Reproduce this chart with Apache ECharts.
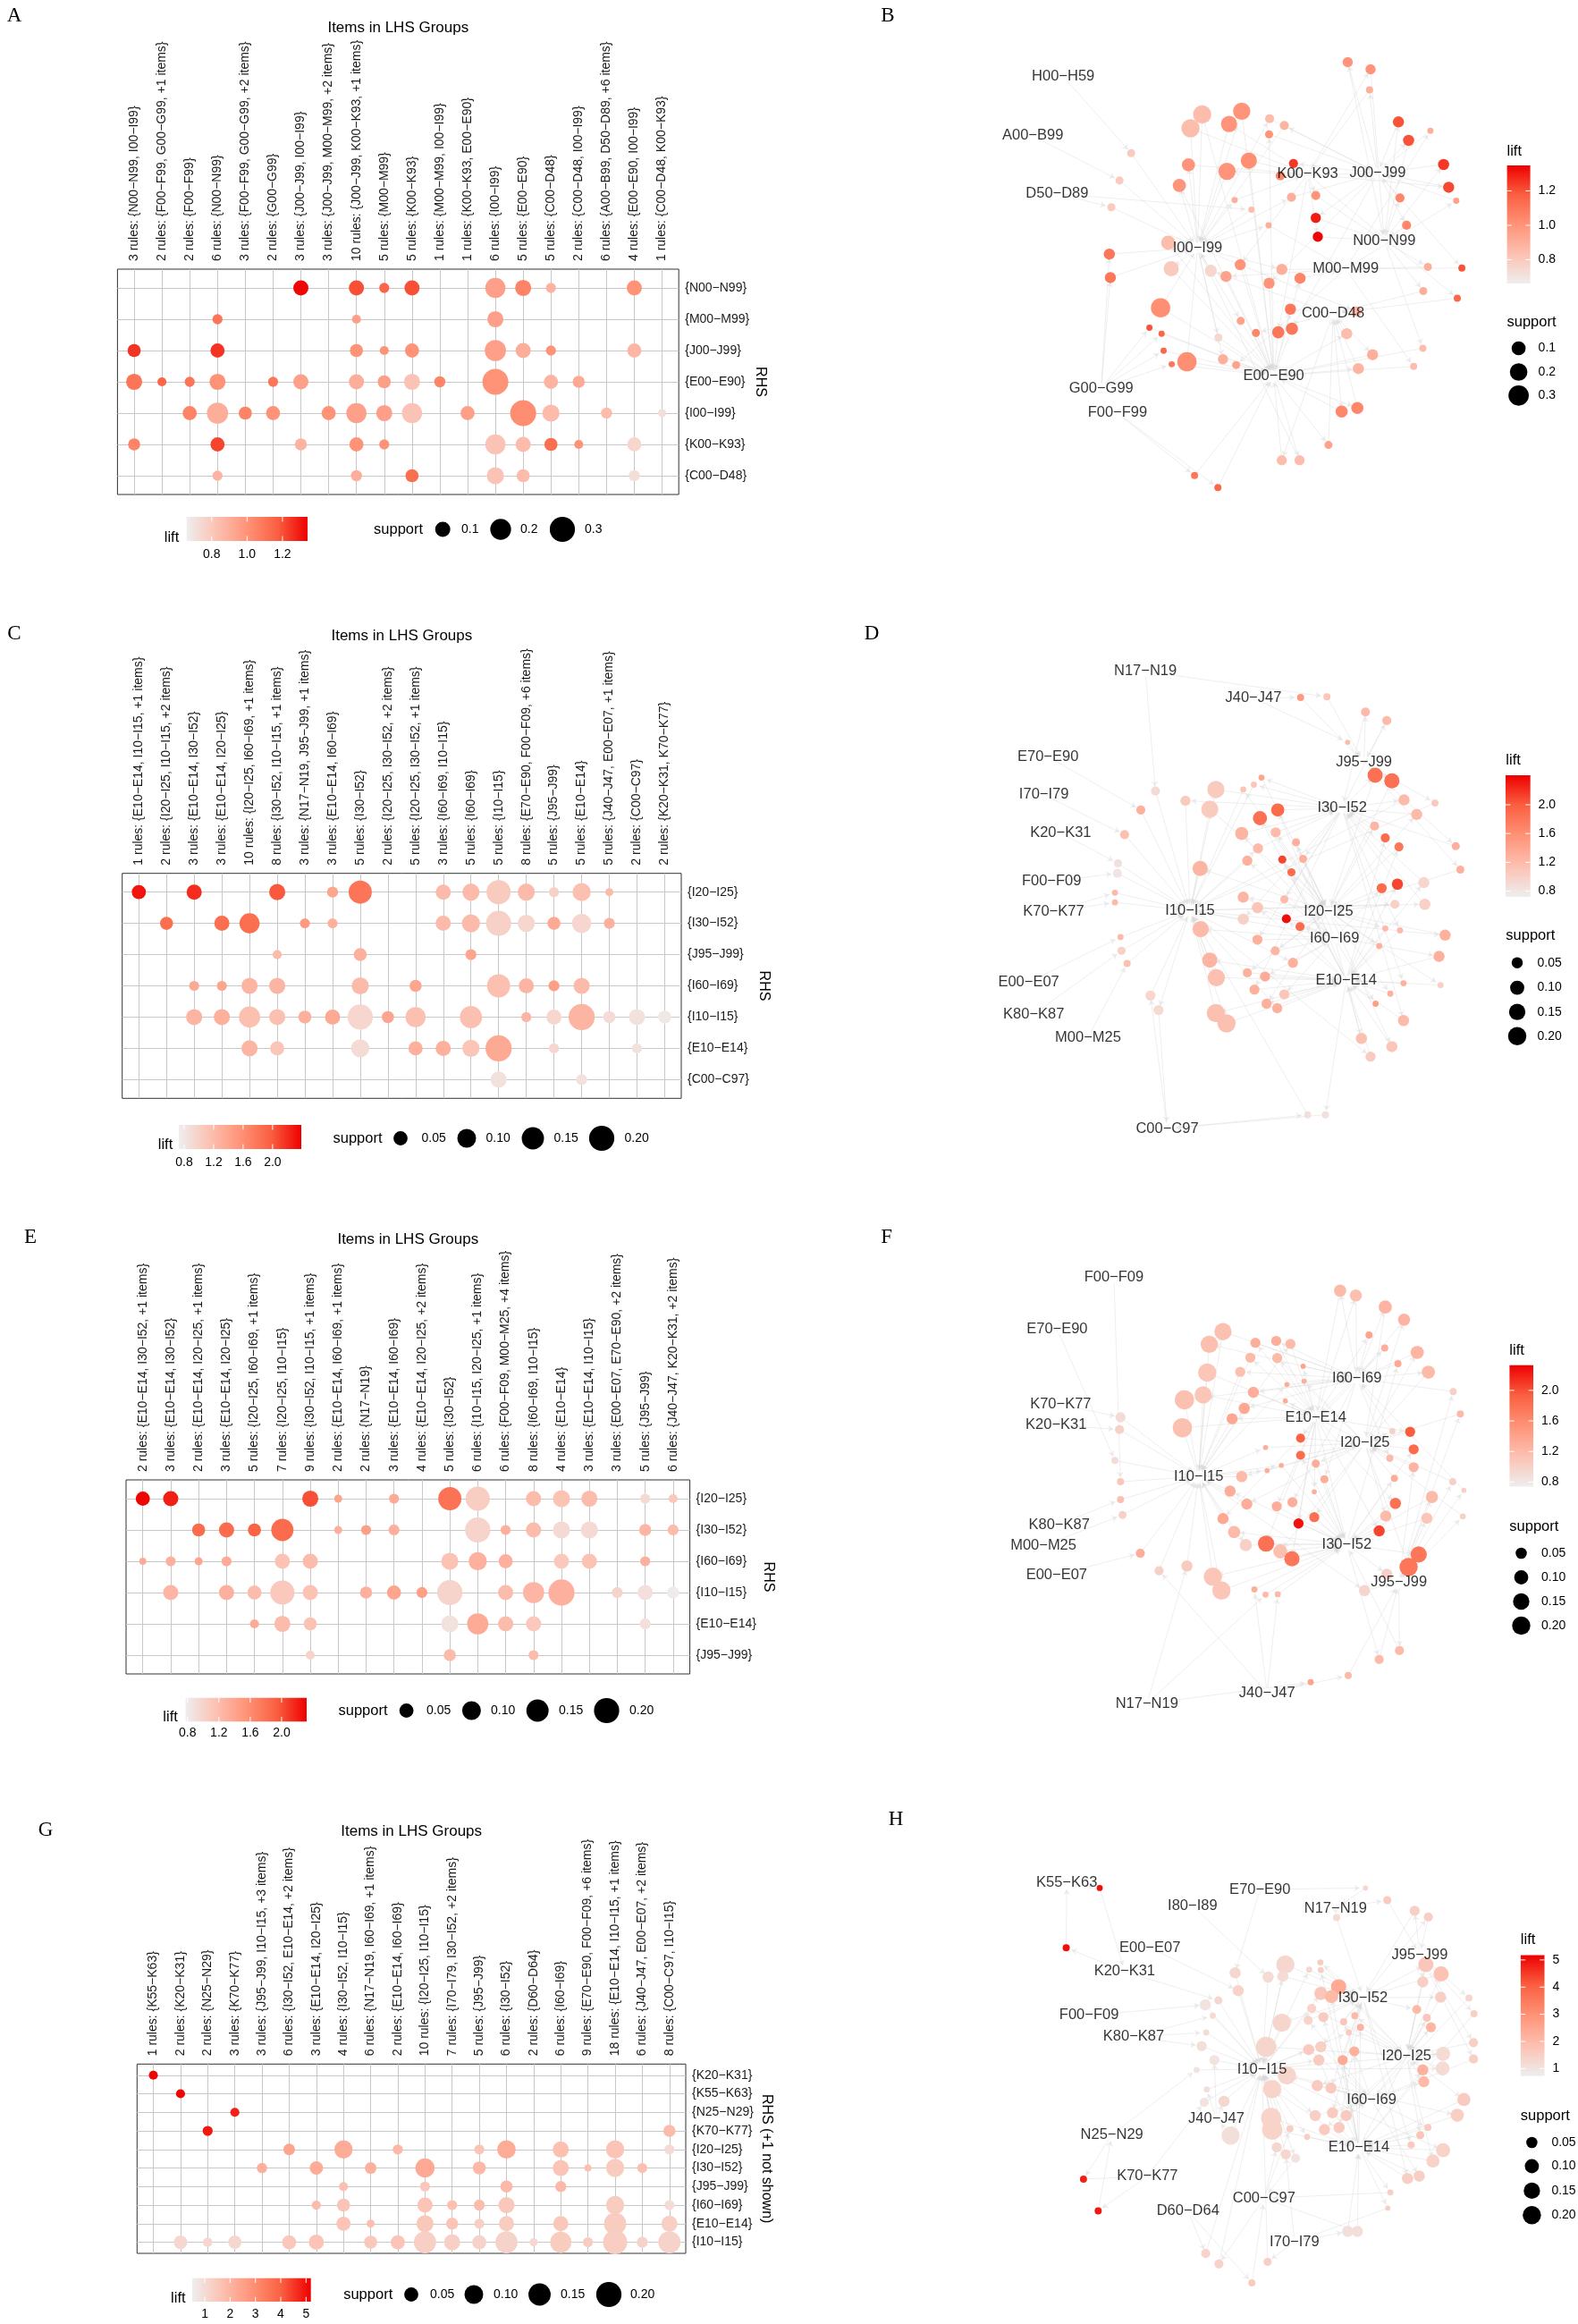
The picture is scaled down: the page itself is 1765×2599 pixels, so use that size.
<!DOCTYPE html>
<html><head><meta charset="utf-8">
<script src="https://cdn.jsdelivr.net/npm/echarts@6/dist/echarts.min.js"></script>
<style>html,body{margin:0;padding:0;background:#fff}#c{width:1765px;height:2599px}</style>
</head><body><div id="c"></div>
<script>
// ---------------- DATA ----------------
const aColumns = ['3 rules: {N00−N99, I00−I99}','2 rules: {F00−F99, G00−G99, +1 items}','2 rules: {F00−F99}','6 rules: {N00−N99}','3 rules: {F00−F99, G00−G99, +2 items}','2 rules: {G00−G99}','3 rules: {J00−J99, I00−I99}','3 rules: {J00−J99, M00−M99, +2 items}','10 rules: {J00−J99, K00−K93, +1 items}','5 rules: {M00−M99}','5 rules: {K00−K93}','1 rules: {M00−M99, I00−I99}','1 rules: {K00−K93, E00−E90}','6 rules: {I00−I99}','5 rules: {E00−E90}','5 rules: {C00−D48}','2 rules: {C00−D48, I00−I99}','6 rules: {A00−B99, D50−D89, +6 items}','4 rules: {E00−E90, I00−I99}','1 rules: {C00−D48, K00−K93}'];
const aRows = ['{N00−N99}','{M00−M99}','{J00−J99}','{E00−E90}','{I00−I99}','{K00−K93}','{C00−D48}'];
// [column, row, support, lift]
const aBubbles = [
[6,0,.100,1.33],[8,0,.100,1.2],[9,0,.040,1.15],[10,0,.100,1.2],[13,0,.187,0.95],[14,0,.115,1.05],[15,0,.040,0.88],[18,0,.100,1.0],
[3,1,.040,1.1],[8,1,.031,0.95],[13,1,.115,0.95],
[0,2,.073,1.25],[3,2,.086,1.25],[8,2,.073,1.0],[9,2,.031,1.0],[10,2,.086,1.0],[13,2,.208,0.95],[14,2,.100,0.9],[15,2,.040,1.0],[18,2,.086,0.87],
[0,3,.115,1.1],[1,3,.031,1.15],[2,3,.040,1.1],[3,3,.115,1.0],[5,3,.040,1.1],[6,3,.100,0.95],[8,3,.100,0.9],[9,3,.073,0.95],[10,3,.115,0.82],[11,3,.050,1.05],[13,3,.320,1.0],[15,3,.086,0.88],[16,3,.061,0.92],
[2,4,.086,1.05],[3,4,.208,0.9],[4,4,.073,1.05],[5,4,.086,1.0],[7,4,.086,1.0],[8,4,.187,0.95],[9,4,.115,0.95],[10,4,.187,0.82],[12,4,.086,0.95],[14,4,.320,1.02],[15,4,.132,0.85],[17,4,.050,0.85],[19,4,.024,0.72],
[0,5,.061,1.05],[3,5,.086,1.22],[6,5,.061,0.88],[8,5,.086,1.0],[9,5,.040,1.0],[13,5,.187,0.82],[14,5,.100,0.85],[15,5,.073,1.12],[16,5,.031,1.0],[18,5,.086,0.75],
[3,6,.040,0.88],[8,6,.050,0.9],[10,6,.073,1.12],[13,6,.132,0.82],[14,6,.073,0.85],[18,6,.050,0.72]];

const cColumns = ['1 rules: {E10−E14, I10−I15, +1 items}','2 rules: {I20−I25, I10−I15, +2 items}','3 rules: {E10−E14, I30−I52}','3 rules: {E10−E14, I20−I25}','10 rules: {I20−I25, I60−I69, +1 items}','8 rules: {I30−I52, I10−I15, +1 items}','3 rules: {N17−N19, J95−J99, +1 items}','3 rules: {E10−E14, I60−I69}','5 rules: {I30−I52}','2 rules: {I20−I25, I30−I52, +2 items}','5 rules: {I20−I25, I30−I52, +1 items}','3 rules: {I60−I69, I10−I15}','5 rules: {I60−I69}','5 rules: {I10−I15}','8 rules: {E70−E90, F00−F09, +6 items}','5 rules: {J95−J99}','5 rules: {E10−E14}','5 rules: {J40−J47, E00−E07, +1 items}','2 rules: {C00−C97}','2 rules: {K20−K31, K70−K77}'];
const cRows = ['{I20−I25}','{I30−I52}','{J95−J99}','{I60−I69}','{I10−I15}','{E10−E14}','{C00−C97}'];
const cBubbles = [
[0,0,.05,2.3],[2,0,.06,2.2],[5,0,.07,2.0],[7,0,.026,1.4],[8,0,.165,1.8],[11,0,.06,1.2],[12,0,.081,1.2],[13,0,.182,1.05],[14,0,.081,1.2],[15,0,.02,1.0],[16,0,.093,1.15],[17,0,.01,1.2],
[1,1,.041,1.85],[3,1,.06,1.85],[4,1,.119,1.85],[6,1,.02,1.5],[7,1,.02,1.3],[11,1,.06,1.2],[12,1,.093,1.2],[13,1,.2,1.0],[14,1,.081,0.95],[15,1,.041,1.35],[16,1,.106,0.95],[17,1,.026,1.3],
[5,2,.015,1.2],[8,2,.041,1.3],[12,2,.026,1.4],
[2,3,.02,1.35],[3,3,.02,1.4],[4,3,.07,1.25],[5,3,.07,1.25],[8,3,.081,1.2],[10,3,.034,1.4],[13,3,.165,1.15],[14,3,.06,1.25],[15,3,.026,1.45],[16,3,.07,1.2],
[2,4,.07,1.25],[3,4,.07,1.3],[4,4,.134,1.15],[5,4,.07,1.15],[6,4,.041,1.3],[7,4,.06,1.35],[8,4,.2,0.95],[9,4,.034,1.4],[10,4,.119,1.15],[12,4,.149,1.15],[14,4,.02,1.25],[15,4,.06,0.95],[16,4,.218,1.25],[17,4,.034,0.9],[18,4,.07,0.85],[19,4,.041,0.78],
[4,5,.07,1.25],[5,5,.05,1.1],[8,5,.093,0.9],[10,5,.05,1.3],[11,5,.06,1.3],[12,5,.081,1.1],[13,5,.218,1.35],[15,5,.02,0.95],[18,5,.02,0.85],
[13,6,.07,0.85],[16,6,.026,0.85]];

const eColumns = ['2 rules: {E10−E14, I30−I52, +1 items}','3 rules: {E10−E14, I30−I52}','2 rules: {E10−E14, I20−I25, +1 items}','3 rules: {E10−E14, I20−I25}','5 rules: {I20−I25, I60−I69, +1 items}','7 rules: {I20−I25, I10−I15}','9 rules: {I30−I52, I10−I15, +1 items}','2 rules: {E10−E14, I60−I69, +1 items}','2 rules: {N17−N19}','3 rules: {E10−E14, I60−I69}','4 rules: {E10−E14, I20−I25, +2 items}','5 rules: {I30−I52}','6 rules: {I10−I15, I20−I25, +1 items}','6 rules: {F00−F09, M00−M25, +4 items}','8 rules: {I60−I69, I10−I15}','4 rules: {E10−E14}','3 rules: {E10−E14, I10−I15}','3 rules: {E00−E07, E70−E90, +2 items}','5 rules: {J95−J99}','6 rules: {J40−J47, K20−K31, +2 items}'];
const eRows = ['{I20−I25}','{I30−I52}','{I60−I69}','{I10−I15}','{E10−E14}','{J95−J99}'];
const eBubbles = [
[0,0,.05,2.3],[1,0,.06,2.2],[6,0,.07,2.0],[7,0,.0103,1.4],[9,0,.02,1.35],[11,0,.165,1.8],[12,0,.182,1.05],[14,0,.06,1.2],[15,0,.081,1.15],[16,0,.07,1.2],[18,0,.02,0.95],[19,0,.015,1.1],
[2,1,.041,1.85],[3,1,.06,1.85],[4,1,.041,1.9],[5,1,.149,1.85],[7,1,.0103,1.3],[8,1,.02,1.45],[9,1,.026,1.3],[12,1,.2,1.0],[13,1,.02,1.3],[14,1,.06,1.2],[15,1,.081,0.95],[16,1,.081,0.95],[18,1,.034,1.25],[19,1,.026,1.2],
[0,2,.0066,1.35],[1,2,.02,1.3],[2,2,.0103,1.4],[3,2,.02,1.35],[5,2,.06,1.15],[6,2,.06,1.2],[11,2,.081,1.15],[12,2,.093,1.3],[13,2,.05,1.3],[15,2,.06,1.1],[16,2,.06,1.15],[18,2,.02,1.3],
[1,3,.06,1.25],[3,3,.06,1.3],[4,3,.05,1.2],[5,3,.182,1.1],[6,3,.06,1.15],[8,3,.034,1.3],[9,3,.05,1.4],[10,3,.026,1.45],[11,3,.2,1.0],[13,3,.06,1.2],[14,3,.134,1.25],[15,3,.218,1.3],[17,3,.026,1.0],[18,3,.06,0.9],[19,3,.034,0.8],
[4,4,.015,1.35],[5,4,.07,1.2],[6,4,.041,1.15],[11,4,.081,0.88],[12,4,.134,1.35],[13,4,.06,1.2],[14,4,.06,1.1],[18,4,.026,0.9],
[6,5,.015,1.0],[11,5,.034,1.2],[14,5,.02,1.2]];

const gColumns = ['1 rules: {K55−K63}','2 rules: {K20−K31}','2 rules: {N25−N29}','3 rules: {K70−K77}','3 rules: {J95−J99, I10−I15, +3 items}','6 rules: {I30−I52, E10−E14, +2 items}','3 rules: {E10−E14, I20−I25}','4 rules: {I30−I52, I10−I15}','6 rules: {N17−N19, I60−I69, +1 items}','2 rules: {E10−E14, I60−I69}','10 rules: {I20−I25, I10−I15}','7 rules: {I70−I79, I30−I52, +2 items}','5 rules: {J95−J99}','6 rules: {I30−I52}','2 rules: {D60−D64}','6 rules: {I60−I69}','9 rules: {E70−E90, F00−F09, +6 items}','18 rules: {E10−E14, I10−I15, +1 items}','6 rules: {J40−J47, E00−E07, +2 items}','8 rules: {C00−C97, I10−I15}'];
const gRows = ['{K20−K31}','{K55−K63}','{N25−N29}','{K70−K77}','{I20−I25}','{I30−I52}','{J95−J99}','{I60−I69}','{E10−E14}','{I10−I15}'];
const gBubbles = [
[0,0,.015,5.1],[1,1,.015,5.1],[3,2,.015,4.8],[2,3,.02,4.9],[19,3,.034,1.8],
[5,4,.03,2.4],[7,4,.093,2.2],[9,4,.02,1.9],[12,4,.02,1.6],[13,4,.097,2.2],[15,4,.07,1.7],[17,4,.093,1.6],[19,4,.02,1.0],
[4,5,.022,2.1],[6,5,.044,2.2],[8,5,.03,2.1],[10,5,.106,2.3],[12,5,.041,1.9],[15,5,.07,1.6],[16,5,.0066,1.7],[17,5,.093,1.4],[18,5,.02,1.7],
[7,6,.015,1.7],[10,6,.02,1.5],[13,6,.034,1.9],[15,6,.026,1.9],
[6,7,.015,1.8],[7,7,.041,1.6],[10,7,.06,1.6],[11,7,.02,1.7],[12,7,.026,1.8],[13,7,.07,1.5],[17,7,.093,1.4],[19,7,.02,1.0],
[7,8,.05,1.6],[8,8,.0103,1.7],[10,8,.081,1.5],[11,8,.034,1.6],[12,8,.02,1.3],[13,8,.06,1.4],[15,8,.06,1.5],[17,8,.149,1.4],[19,8,.07,1.3],
[1,9,.046,1.1],[2,9,.017,1.1],[3,9,.044,1.1],[5,9,.05,1.5],[6,9,.06,1.6],[8,9,.041,1.5],[9,9,.05,1.6],[10,9,.149,1.3],[11,9,.07,1.3],[12,9,.05,1.2],[13,9,.149,1.2],[14,9,.0103,1.1],[15,9,.134,1.4],[16,9,.02,1.4],[17,9,.182,1.35],[18,9,.026,1.2],[19,9,.149,1.2]];

// Networks: items [label, layoutX, layoutY]; rules [layoutX, layoutY, support, lift, lhsItem, rhsItem]
const bItems = [['H00−H59',545,215],['A00−B99',485,382],['D50−D89',533,545],['K00−K93',1027,490],['J00−J99',1165,487],['I00−I99',810,697],['N00−N99',1178,678],['M00−M99',1102,757],['C00−D48',1077,882],['E00−E90',960,1058],['G00−G99',620,1092],['F00−F99',652,1162]];
const bRules = [
[1106,175,.031,1.0,4,6],[1151,195,.031,1.0,3,6],[1149,253,.004,0.9,4,3],[819,322,.223,0.85,5,9],[897,313,.19,1.0,9,5],[796,361,.223,0.85,5,3],[872,349,.159,1.0,3,5],[952,334,.019,0.85,5,4],[981,353,.019,0.88,4,5],[951,378,.010,1.0,9,4],
[1206,343,.045,1.2,6,4],[1226,395,.045,1.2,4,6],[1269,368,.001,0.9,7,4],[679,431,.010,0.8,0,5],[656,508,.010,0.8,1,5],[640,583,.010,0.8,2,5],[792,464,.082,1.0,5,3],[868,482,.19,1.0,3,5],[911,452,.159,1.02,9,3],[774,522,.082,1.0,5,9],
[999,460,.019,1.25,4,3],[973,495,.019,1.05,3,4],[883,563,.001,0.9,5,3],[995,555,.019,0.9,5,4],[1043,550,.019,1.0,3,6],[1295,463,.045,1.25,6,4],[1305,527,.045,1.22,3,4],[1320,565,.001,0.95,7,4],[1209,557,.019,1.05,6,4],[1222,634,.019,1.05,4,6],
[1043,613,.031,1.3,4,6],[1047,666,.031,1.34,3,6],[950,634,.001,0.9,5,7],[916,590,.001,0.85,2,5],[636,715,.045,1.1,10,5],[638,781,.045,1.1,10,5],[752,683,.105,0.85,9,5],[758,756,.13,0.8,5,9],[836,762,.062,0.75,8,5],[894,745,.045,1.0,3,9],
[866,778,.045,0.95,7,9],[976,758,.045,0.9,5,7],[1012,783,.045,1.05,9,7],[951,797,.045,1.0,4,9],[1264,751,.010,0.9,6,7],[1331,754,.004,1.2,4,7],[1255,819,.010,0.9,6,8],[1322,839,.004,1.15,3,8],[737,866,.26,1.02,9,5],[993,870,.045,1.1,9,8],
[1123,876,.031,0.88,5,8],[715,922,.001,1.2,10,9],[739,939,.001,1.15,10,9],[743,987,.001,1.15,10,9],[759,1025,.001,1.1,10,9],[789,1018,.26,1.02,5,9],[895,903,.010,0.95,5,9],[925,937,.010,1.05,8,9],[969,935,.062,1.1,3,9],[996,925,.062,1.1,4,9],
[851,950,.010,0.75,5,9],[1104,939,.045,0.85,9,8],[860,1011,.031,0.9,5,9],[886,1027,.010,0.95,7,9],[1155,998,.045,0.9,8,9],[1127,1037,.045,0.88,9,8],[1254,980,.004,0.85,6,9],[1236,1031,.004,0.85,7,9],[1094,1158,.062,1.05,8,9],[1125,1148,.062,1.05,9,8],
[1068,1252,.010,0.95,9,8],[976,1295,.031,0.85,8,9],[1011,1295,.031,0.85,9,5],[804,1338,.004,1.1,11,9],[850,1372,.004,1.15,11,9]];

const dItems = [['N17−N19',707,218],['J40−J47',920,290],['E70−E90',515,447],['J95−J99',1138,463],['I70−I79',507,549],['I30−I52',1095,585],['K20−K31',540,652],['F00−F09',522,781],['K70−K77',526,863],['I10−I15',795,860],['I20−I25',1068,862],['I60−I69',1080,935],['E00−E07',477,1052],['E10−E14',1103,1047],['K80−K87',487,1138],['M00−M25',594,1200],['C00−C97',750,1445]];
const dRules = [
[1013,288,.009,1.5,1,3],[1065,286,.009,1.1,0,3],[1141,327,.025,1.2,3,5],[1183,350,.025,1.2,5,3],[1106,408,.001,1.2,1,3],[1160,497,.123,1.85,5,10],[1193,512,.123,1.85,3,10],[936,503,.004,1.4,5,10],[921,522,.004,1.1,5,9],[900,535,.004,1.1,10,9],
[846,535,.172,1.05,9,5],[786,565,.036,1.05,5,9],[727,539,.025,0.9,0,9],[834,588,.172,1.05,9,10],[698,590,.025,1.3,2,9],[968,590,.082,1.9,13,5],[933,612,.10,1.85,13,10],[1217,563,.05,1.2,5,9],[1278,571,.009,1.05,3,9],[1242,602,.05,1.2,10,5],
[666,656,.025,1.15,4,9],[897,653,.082,1.25,11,5],[964,650,.036,1.2,10,5],[1159,633,.025,1.25,10,5],[1180,665,.025,1.9,13,5],[1207,689,.025,1.8,13,10],[1004,677,.016,1.3,11,10],[929,693,.036,1.2,9,5],[653,733,.016,0.85,6,9],[652,760,.025,0.8,7,9],
[815,747,.123,1.25,10,9],[908,726,.036,1.3,11,9],[977,723,.016,2.1,13,10],[1018,721,.016,1.3,5,10],[995,757,.016,1.9,13,10],[1319,687,.016,1.3,3,5],[1328,750,.016,1.3,3,10],[1256,785,.05,0.95,13,5],[1173,800,.036,1.9,11,10],[1204,789,.05,2.1,13,5],
[647,812,.004,1.2,8,9],[647,838,.004,1.2,8,9],[900,824,.05,1.25,10,11],[981,830,.016,1.2,5,11],[928,852,.05,1.1,13,11],[1258,843,.05,1.0,9,5],[1199,843,.025,1.0,9,10],[900,883,.05,1.0,5,9],[985,882,.025,2.35,13,10],[1012,903,.025,1.9,11,10],
[816,910,.147,1.2,11,9],[1180,908,.004,1.2,10,13],[1209,913,.004,1.2,5,13],[1298,926,.05,1.3,9,10],[658,931,.004,1.2,12,9],[660,968,.016,1.0,14,9],[671,1002,.009,1.15,15,9],[928,938,.036,1.3,5,11],[963,968,.025,1.25,10,11],[1168,955,.004,1.3,10,13],
[834,993,.123,1.25,13,9],[998,1000,.036,1.3,9,11],[1286,983,.05,1.3,9,13],[847,1040,.172,1.15,9,13],[908,1027,.025,1.3,10,13],[943,1037,.036,1.35,11,13],[922,1072,.036,1.3,5,13],[981,1085,.036,1.1,11,13],[1216,1055,.004,1.3,5,13],[1289,1060,.004,1.0,10,13],
[1190,1083,.004,1.3,10,13],[1161,1110,.004,1.45,11,13],[717,1088,.036,0.95,16,9],[733,1127,.036,0.9,9,16],[946,1110,.036,1.3,10,13],[967,1122,.036,1.3,9,13],[846,1135,.20,1.15,13,9],[867,1163,.20,1.15,9,13],[1216,1155,.05,1.2,5,13],[1133,1203,.05,1.15,11,13],
[1193,1225,.05,1.1,10,13],[1151,1252,.036,1.05,9,13],[1027,1408,.009,0.85,16,9],[1062,1408,.009,0.85,13,16]];

const fItems = [['F00−F09',645,237],['E70−E90',533,375],['I60−I69',1124,508],['K70−K77',540,577],['E10−E14',1043,612],['K20−K31',531,633],['I20−I25',1140,681],['I10−I15',812,771],['K80−K87',537,900],['M00−M25',506,957],['I30−I52',1104,953],['E00−E07',532,1035],['J95−J99',1207,1055],['J40−J47',947,1352],['N17−N19',710,1381]];
const fRules = [
[1091,272,.065,1.2,2,4],[1122,285,.065,1.15,4,2],[1180,316,.082,1.25,2,6],[1217,350,.065,1.25,6,2],[1148,391,.009,1.4,4,2],[1179,426,.009,1.3,2,4],[1243,438,.082,1.25,6,2],[1205,468,.009,1.35,10,2],[1265,491,.082,1.2,2,6],[860,382,.172,1.15,7,2],
[833,416,.172,1.15,2,7],[924,412,.036,1.3,4,2],[965,407,.036,1.3,2,4],[993,415,.036,1.2,7,4],[914,452,.036,1.2,4,7],[967,453,.036,1.2,6,4],[1018,475,.001,1.4,10,2],[829,492,.20,1.1,7,4],[894,490,.036,1.15,2,7],[986,524,.001,1.3,7,2],
[1020,515,.001,1.3,6,2],[821,552,.172,1.1,4,7],[920,545,.05,1.3,2,4],[784,565,.229,1.15,7,2],[983,568,.001,1.3,6,4],[902,588,.05,1.35,2,7],[878,616,.05,1.35,4,7],[1314,543,.009,1.0,12,2],[1328,603,.009,1.2,12,6],[780,640,.229,1.15,7,4],
[658,612,.036,0.9,3,7],[656,645,.025,1.0,5,7],[1229,651,.036,1.95,4,6],[1236,698,.036,1.85,10,6],[1013,668,.025,1.9,4,6],[1013,714,.025,1.85,10,6],[944,693,.001,1.3,7,6],[1194,649,.004,1.0,6,2],[1189,722,.009,1.2,2,6],[1236,746,.036,1.25,12,6],
[647,728,.009,0.9,1,7],[1043,736,.016,1.3,6,10],[975,741,.001,1.3,7,10],[947,755,.001,1.3,7,6],[897,771,.05,1.2,6,7],[1060,778,.016,1.3,2,10],[1198,776,.009,1.3,10,6],[1313,785,.009,1.0,12,6],[1335,808,.001,1.0,12,2],[658,785,.009,1.1,0,7],
[874,810,.05,1.3,10,7],[1040,812,.001,1.3,4,10],[997,840,.036,1.3,2,10],[907,845,.05,1.3,6,7],[966,851,.036,1.3,4,10],[1272,826,.065,1.2,12,10],[1200,843,.05,1.8,4,10],[658,833,.009,1.15,8,7],[1181,877,.05,1.2,6,10],[1262,883,.05,1.1,12,10],
[1333,878,.004,1.0,12,6],[662,874,.016,1.0,9,7],[860,884,.05,1.35,2,7],[1009,897,.036,2.25,4,10],[1040,880,.036,1.8,6,10],[1168,917,.05,2.05,4,10],[882,920,.065,1.2,10,7],[945,951,.147,1.8,4,10],[905,955,.065,1.0,7,10],[973,972,.10,1.15,6,10],
[996,992,.123,1.75,4,10],[1246,980,.147,1.75,10,12],[1226,1014,.20,1.75,6,12],[697,977,.025,1.3,11,7],[789,1011,.05,1.05,14,7],[734,1024,.025,1.0,13,7],[840,1040,.20,1.1,10,7],[857,1077,.20,1.1,7,10],[1183,1033,.05,1.0,10,12],[1139,1077,.05,0.95,7,12],
[922,1074,.004,1.3,13,10],[944,1088,.004,1.2,14,10],[968,1087,.004,1.2,13,10],[1208,1238,.025,1.2,12,10],[1168,1262,.025,1.2,10,12],[1107,1305,.009,1.2,13,12],[1033,1323,.004,1.4,14,13]];

const hItems = [['K55−K63',552,297],['E70−E90',933,315],['I80−I89',800,362],['N17−N19',1082,370],['E00−E07',716,482],['J95−J99',1248,502],['K20−K31',666,550],['I30−I52',1136,625],['F00−F09',596,676],['K80−K87',684,737],['I20−I25',1222,792],['I10−I15',937,830],['I60−I69',1153,918],['J40−J47',847,972],['N25−N29',641,1018],['E10−E14',1128,1055],['K70−K77',711,1137],['C00−C97',941,1200],['D60−D64',791,1237],['I70−I79',1001,1325]];
const hRules = [
[617,311,.004,5.0,0,6],[551,482,.009,5.0,6,0],[585,1145,.009,4.8,14,16],[614,1236,.009,4.9,16,14],[1141,311,.001,1.3,1,3],[1184,346,.016,1.6,3,5],[1084,396,.009,1.2,3,7],[1238,376,.036,1.5,5,7],[1265,394,.025,1.5,7,5],[983,530,.20,1.3,11,7],
[949,566,.05,1.2,2,11],[978,564,.05,1.2,11,7],[884,554,.05,1.3,1,11],[890,605,.05,1.4,4,11],[1052,524,.004,1.6,7,10],[1030,545,.004,1.3,11,7],[1053,546,.004,1.5,15,7],[1088,594,.123,2.4,10,7],[1053,613,.082,1.7,11,7],[1074,622,.082,2.0,15,7],
[1260,530,.123,1.7,7,10],[1290,557,.123,1.8,10,7],[1254,580,.05,1.5,5,10],[1289,624,.05,1.5,7,10],[1345,626,.009,1.3,5,12],[1355,671,.009,1.5,5,15],[825,646,.05,1.0,8,11],[851,633,.016,1.3,6,11],[840,677,.004,1.2,9,11],[1035,656,.025,1.4,11,10],
[1028,690,.025,1.4,12,7],[1058,681,.036,1.6,15,7],[976,697,.20,1.35,7,11],[1120,677,.009,2.0,10,7],[1098,694,.009,1.7,12,7],[1131,710,.009,2.2,15,10],[1242,659,.025,2.0,7,10],[1262,683,.016,1.7,15,10],[1270,710,.036,2.1,12,10],[827,725,.004,1.2,9,11],
[1108,725,.004,1.6,11,10],[818,764,.036,1.1,9,11],[945,766,.26,1.35,10,11],[1029,774,.05,1.6,11,12],[1053,766,.05,1.5,7,12],[1119,779,.036,2.2,15,10],[1096,804,.036,2.4,15,7],[1049,804,.05,1.6,11,15],[843,804,.036,1.0,13,11],[1294,786,.10,1.2,11,10],
[1354,754,.025,1.5,5,10],[1354,801,.025,1.5,5,12],[808,832,.004,1.0,14,11],[1254,832,.05,2.2,15,10],[1293,828,.10,1.2,11,10],[986,848,.20,1.35,12,11],[1256,866,.05,2.0,12,10],[1046,877,.05,1.6,10,12],[1073,884,.05,1.6,7,12],[957,887,.20,1.4,15,11],
[828,888,.004,1.1,13,11],[1335,917,.082,1.6,10,15],[862,922,.05,1.3,13,11],[823,925,.025,1.0,16,11],[1322,962,.082,1.5,11,15],[1042,963,.05,1.5,11,12],[1076,955,.05,1.6,7,12],[1103,963,.05,1.6,10,12],[955,970,.26,1.4,11,15],[957,1003,.26,1.4,15,11],
[875,1020,.20,1.1,11,13],[1060,1003,.05,1.6,10,15],[1089,997,.05,1.6,7,15],[992,1001,.009,1.5,17,11],[1026,1024,.004,1.5,11,15],[1264,997,.009,1.6,12,15],[1249,1019,.016,1.7,10,15],[1294,1062,.10,1.4,11,15],[1231,1047,.009,1.6,7,15],[966,1054,.036,1.3,17,11],
[984,1074,.036,1.3,19,11],[1003,1085,.025,1.0,11,17],[1274,1093,.082,1.4,10,15],[1247,1136,.05,1.5,12,15],[1224,1143,.05,1.5,7,15],[1190,1183,.004,1.5,15,17],[1185,1228,.001,1.5,15,19],[1106,1295,.05,1.1,19,15],[1125,1295,.05,1.1,17,15],[826,1358,.025,1.4,18,11],
[852,1388,.025,1.4,17,11],[948,1382,.016,1.5,19,11],[917,1442,.009,1.6,18,17]];

// legend breaks
const liftBreaksA = [0.8,1.0,1.2], liftLabelsA = ['0.8','1.0','1.2'];
const liftBreaksC = [0.8,1.2,1.6,2.0], liftLabelsC = ['0.8','1.2','1.6','2.0'];
const liftBreaksG = [1,2,3,4,5], liftLabelsG = ['1','2','3','4','5'];
const supBreaksA = [0.1,0.2,0.3], supLabelsA = ['0.1','0.2','0.3'];
const supBreaksC = [0.05,0.10,0.15,0.20], supLabelsC = ['0.05','0.10','0.15','0.20'];

// ---------------- STYLE / LAYOUT ----------------
const FONT = '"Liberation Sans", Arial, Helvetica, sans-serif';
const SERIF = '"Liberation Serif", "DejaVu Serif", serif';
const RAMP = ['#EEEEEE','#FCC1B2','#FF9378','#FA6041','#EE0000'];
const sizeA = s => 1.6 + 48.5*Math.sqrt(s);
const sizeC = s => 3.4 + 55.5*Math.sqrt(s);
const sizeB = s => 6 + 30.5*Math.sqrt(s);
const sizeD = s => 4.6 + 35.4*Math.sqrt(s);

const option = {animation:false, backgroundColor:'#ffffff', grid:[], xAxis:[], yAxis:[], series:[], visualMap:[], graphic:{elements:[]}};
const G = option.graphic.elements;

function txt(x, y, s, size, align, family, color) {
  return {type:'text', x:x, y:y, silent:true, z:20,
    style:{text:s, fill:color||'#000', font: size+'px '+(family||FONT), align:align||'center', verticalAlign:'middle'}};
}
function gradient(horizontal) {
  const stops = RAMP.map((c,i)=>({offset:i/(RAMP.length-1), color:c}));
  return horizontal ? new echarts.graphic.LinearGradient(0,0,1,0,stops) : new echarts.graphic.LinearGradient(0,1,0,0,stops);
}
function line(x1,y1,x2,y2,color) {
  return {type:'line', silent:true, z:21, shape:{x1,y1,x2,y2}, style:{stroke:color, lineWidth:1}};
}

function addMatrix(cfg) {
  const gi = option.grid.length;
  const [bx, by, bw, bh] = cfg.box;
  option.grid.push({left:bx, top:by, width:bw, height:bh, show:true, borderColor:'#333333', borderWidth:1, backgroundColor:'rgba(0,0,0,0)'});
  const nc = cfg.cols.length, nr = cfg.rows.length;
  const ci = cfg.cols.map((_, i) => i), ri = cfg.rows.map((_, i) => i);
  const xMin = -0.6, xMax = nc - 0.4, yMin = -0.6, yMax = nr - 0.4;
  option.xAxis.push({gridIndex:gi, type:'value', position:'top', min:xMin, max:xMax,
    axisLine:{show:false}, splitLine:{show:false},
    axisTick:{show:true, customValues:ci, length:4, lineStyle:{color:'#333'}},
    axisLabel:{customValues:ci, formatter:v => (Math.abs(v-Math.round(v))<1e-6 ? (cfg.cols[Math.round(v)]||'') : ''), rotate:90, margin:9, fontSize:14, color:'#1a1a1a', fontFamily:FONT}});
  option.yAxis.push({gridIndex:gi, type:'value', position:'right', inverse:true, min:yMin, max:yMax,
    axisLine:{show:false}, splitLine:{show:false},
    axisTick:{show:true, customValues:ri, length:4, lineStyle:{color:'#333'}},
    axisLabel:{customValues:ri, formatter:v => (Math.abs(v-Math.round(v))<1e-6 ? (cfg.rows[Math.round(v)]||'') : ''), margin:7, fontSize:14, color:'#1a1a1a', fontFamily:FONT},
    name:cfg.rhs, nameLocation:'middle', nameRotate:-90, nameGap:cfg.nameGap, nameTextStyle:{fontSize:16, color:'#000', fontFamily:FONT}});
  // grid lines under the bubbles, drawn on the axis scale
  const gl = ci.map(i => ({coords:[[i, yMin],[i, yMax]]})).concat(ri.map(j => ({coords:[[xMin, j],[xMax, j]]})));
  option.series.push({type:'lines', coordinateSystem:'cartesian2d', xAxisIndex:gi, yAxisIndex:gi, silent:true, z:1, symbol:['none','none'],
    lineStyle:{color:'#C8C8C8', width:1, opacity:1, curveness:0}, data:gl});
  const si = option.series.length;
  option.series.push({type:'scatter', xAxisIndex:gi, yAxisIndex:gi, data:cfg.bubbles, symbolSize:v => cfg.size(v[2]), silent:true, z:3, itemStyle:{opacity:1}});
  option.visualMap.push({type:'continuous', show:false, seriesIndex:si, dimension:3, min:cfg.lift[0], max:cfg.lift[1], inRange:{color:RAMP}});
  // letter + title
  G.push(txt(cfg.letter[1], cfg.letter[2], cfg.letter[0], 23, 'center', SERIF));
  G.push(txt(bx + bw/2, cfg.titleY, 'Items in LHS Groups', 17));
  // lift legend (horizontal colorbar)
  const L = cfg.legend;
  G.push(txt(L.liftTitle[0], L.liftTitle[1], 'lift', 16.5));
  const [lx, ly, lw, lh] = L.bar;
  G.push({type:'rect', silent:true, z:20, shape:{x:lx, y:ly, width:lw, height:lh}, style:{fill:gradient(true)}});
  L.breaks.forEach((b,i) => {
    const px = lx + (b - cfg.lift[0])/(cfg.lift[1]-cfg.lift[0])*lw;
    G.push(line(px, ly, px, ly+lh*0.2, '#fff'));
    G.push(line(px, ly+lh*0.8, px, ly+lh, '#fff'));
    G.push(txt(px, L.tickY, L.labels[i], 14));
  });
  // support legend
  G.push(txt(L.supTitle[0], L.supY, 'support', 16.5));
  L.supBreaks.forEach((s,i) => {
    G.push({type:'circle', silent:true, z:20, shape:{cx:L.supX[i], cy:L.supY, r:cfg.size(s)/2}, style:{fill:'#000'}});
    G.push(txt(L.supLabelX[i], L.supY, L.supLabels[i], 14, 'left'));
  });
}

function shorten(p, q, d) {
  const dx = q[0]-p[0], dy = q[1]-p[1], len = Math.sqrt(dx*dx+dy*dy) || 1;
  return [q[0] - dx/len*d, q[1] - dy/len*d];
}

function addNetwork(cfg) {
  const gi = option.grid.length;
  const [cx, cy, cw, ch] = cfg.frame;
  option.grid.push({left:cx, top:cy, width:cw, height:ch, show:false});
  option.xAxis.push({gridIndex:gi, type:'value', min:0, max:1560, show:false});
  option.yAxis.push({gridIndex:gi, type:'value', min:0, max:1560, inverse:true, show:false});
  const edges = [];
  cfg.rules.forEach(r => {
    const n = [r[0], r[1]], f = [cfg.items[r[4]][1], cfg.items[r[4]][2]], t = [cfg.items[r[5]][1], cfg.items[r[5]][2]];
    edges.push({coords:[shorten(n, f, 14), shorten(f, n, 12)]});
    edges.push({coords:[n, shorten(n, t, 18)]});
  });
  option.series.push({type:'lines', coordinateSystem:'cartesian2d', xAxisIndex:gi, yAxisIndex:gi, polyline:false, silent:true, z:1,
    symbol:['none','arrow'], symbolSize:6, lineStyle:{color:'#D6D6D6', width:1, opacity:0.42, curveness:0}, data:edges});
  const si = option.series.length;
  option.series.push({type:'scatter', xAxisIndex:gi, yAxisIndex:gi, silent:true, z:3,
    data:cfg.rules.map(r => [r[0], r[1], r[2], r[3]]), symbolSize:v => cfg.size(v[2]), itemStyle:{opacity:1}});
  option.visualMap.push({type:'continuous', show:false, seriesIndex:si, dimension:3, min:cfg.lift[0], max:cfg.lift[1], inRange:{color:RAMP}});
  option.series.push({type:'scatter', xAxisIndex:gi, yAxisIndex:gi, silent:true, z:5,
    data:cfg.items.map(it => ({name:it[0], value:[it[1], it[2]]})), symbolSize:1, itemStyle:{color:'rgba(0,0,0,0)'},
    label:{show:true, position:'inside', formatter:'{b}', fontSize:16.5, color:'#000', fontFamily:FONT}});
  G.push(txt(cfg.letter[1], cfg.letter[2], cfg.letter[0], 23, 'center', SERIF));
  // vertical lift colorbar
  const L = cfg.legend;
  G.push(txt(L.liftTitle[0], L.liftTitle[1], 'lift', 16.5, 'left'));
  const [lx, ly, lw, lh] = L.bar;
  G.push({type:'rect', silent:true, z:20, shape:{x:lx, y:ly, width:lw, height:lh}, style:{fill:gradient(false)}});
  L.breaks.forEach((b,i) => {
    const py = ly + lh - (b - cfg.lift[0])/(cfg.lift[1]-cfg.lift[0])*lh;
    G.push(line(lx, py, lx+lw*0.2, py, '#fff'));
    G.push(line(lx+lw*0.8, py, lx+lw, py, '#fff'));
    G.push(txt(L.labelX, py, L.labels[i], 14, 'left'));
  });
  G.push(txt(L.supTitle[0], L.supTitle[1], 'support', 16.5, 'left'));
  L.supBreaks.forEach((s,i) => {
    G.push({type:'circle', silent:true, z:20, shape:{cx:L.supX, cy:L.supY[i], r:cfg.size(s)/2}, style:{fill:'#000'}});
    G.push(txt(L.supLabelX, L.supY[i], L.supLabels[i], 14, 'left'));
  });
}

// ---------------- PANELS ----------------
addMatrix({letter:['A',16,18], titleY:31, box:[131.4,301,627.8,252], cols:aColumns, rows:aRows, bubbles:aBubbles, size:sizeA, lift:[0.658,1.342], rhs:'RHS', nameGap:79,
  legend:{liftTitle:[192,601], bar:[208.7,578,135.3,27], tickY:620, breaks:liftBreaksA, labels:liftLabelsA,
    supTitle:[445.6], supY:592, supX:[495.2,560,629], supLabelX:[516,582,654], supBreaks:supBreaksA, supLabels:supLabelsA}});
addMatrix({letter:['C',16,709], titleY:711, box:[136.7,976.7,625.3,251.6], cols:cColumns, rows:cRows, bubbles:cBubbles, size:sizeC, lift:[0.727,2.39], rhs:'RHS', nameGap:84,
  legend:{liftTitle:[185,1280], bar:[200,1258,137,27], tickY:1300, breaks:liftBreaksC, labels:liftLabelsC,
    supTitle:[400], supY:1273, supX:[448,522,596,673], supLabelX:[471.5,543.5,619.5,698.5], supBreaks:supBreaksC, supLabels:supLabelsC}});
addMatrix({letter:['E',34,1384], titleY:1386, box:[141,1655,630.6,217], cols:eColumns, rows:eRows, bubbles:eBubbles, size:sizeC, lift:[0.775,2.32], rhs:'RHS', nameGap:80,
  legend:{liftTitle:[190.6,1920], bar:[207.6,1898.75,135.4,26.5], tickY:1938, breaks:liftBreaksC, labels:liftLabelsC,
    supTitle:[406], supY:1913, supX:[454.6,527.4,601.2,678.5], supLabelX:[477,549,625,704], supBreaks:supBreaksC, supLabels:supLabelsC}});
addMatrix({letter:['G',51,2047], titleY:2048, box:[153.3,2308.3,613.7,211.7], cols:gColumns, rows:gRows, bubbles:gBubbles, size:sizeC, lift:[0.505,5.19], rhs:'RHS (+1 not shown)', nameGap:82,
  legend:{liftTitle:[199.3,2570], bar:[215,2547.7,132.7,26.3], tickY:2588, breaks:liftBreaksG, labels:liftLabelsG,
    supTitle:[411.7], supY:2566, supX:[460,530,603.5,681], supLabelX:[481,552,627,705], supBreaks:supBreaksC, supLabels:supLabelsC}});

addNetwork({letter:['B',993,18], frame:[880,0,885,620], items:bItems, rules:bRules, size:sizeB, lift:[0.662,1.348],
  legend:{liftTitle:[1685.5,169], bar:[1685.6,185,26,132], labelX:1720.6, breaks:liftBreaksA, labels:liftLabelsA,
    supTitle:[1685.5,360.5], supX:1698.6, supY:[389.5,416,442.3], supLabelX:1720.6, supBreaks:supBreaksA, supLabels:supLabelsA}});
addNetwork({letter:['D',975,709], frame:[880,660,885,650], items:dItems, rules:dRules, size:sizeD, lift:[0.72,2.41],
  legend:{liftTitle:[1684.3,850.8], bar:[1684,867,27.7,136], labelX:1720.6, breaks:liftBreaksC, labels:liftLabelsC,
    supTitle:[1684.3,1046.7], supX:1697, supY:[1076.7,1104.6,1131.7,1158.7], supLabelX:1719.5, supBreaks:supBreaksC, supLabels:supLabelsC}});
addNetwork({letter:['F',991.7,1384], frame:[880,1330,885,650], items:fItems, rules:fRules, size:sizeD, lift:[0.74,2.33],
  legend:{liftTitle:[1688.3,1510], bar:[1688.4,1526.7,26.6,135.8], labelX:1724, breaks:liftBreaksC, labels:liftLabelsC,
    supTitle:[1688.3,1707], supX:1701.5, supY:[1737,1764,1791,1818], supLabelX:1724, supBreaks:supBreaksC, supLabels:supLabelsC}});
addNetwork({letter:['H',1002,2035], frame:[880,1990,885,609], items:hItems, rules:hRules, size:sizeD, lift:[0.72,5.18],
  legend:{liftTitle:[1700.8,2169.6], bar:[1700.9,2186.4,26.6,135.4], labelX:1736.5, breaks:liftBreaksG, labels:liftLabelsG,
    supTitle:[1700.8,2366.7], supX:1713.4, supY:[2396,2422.5,2449.9,2477.2], supLabelX:1735.4, supBreaks:supBreaksC, supLabels:supLabelsC}});

const chart = echarts.init(document.getElementById('c'), null, {renderer:'canvas', width:1765, height:2599});
chart.setOption(option);
</script></body></html>
